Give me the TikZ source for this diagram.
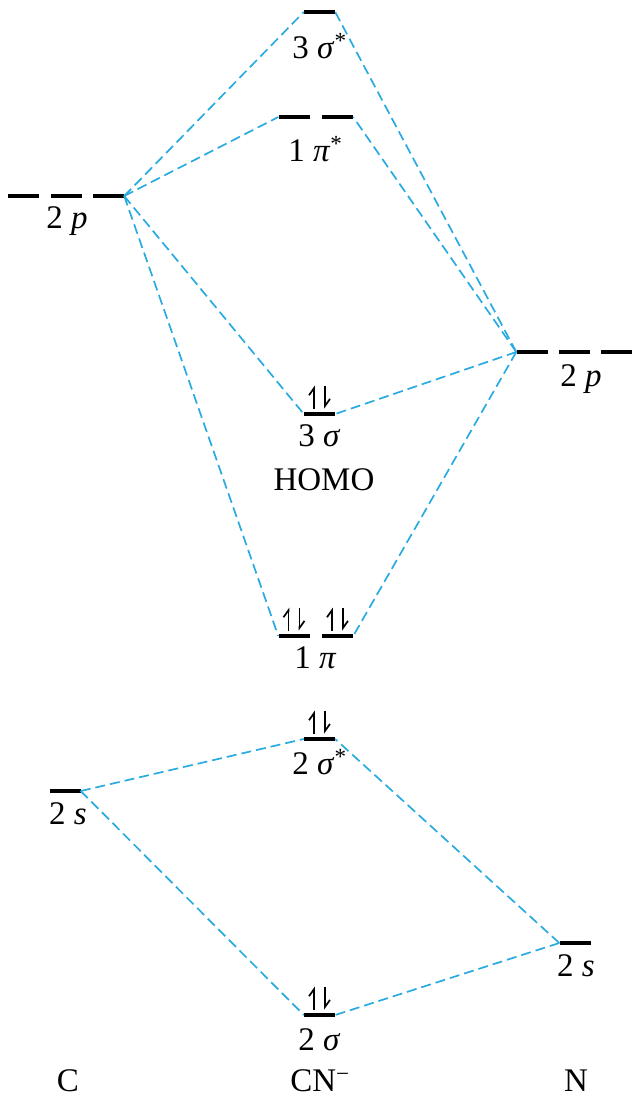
\documentclass[tikz,border=0pt]{standalone}
\usepackage{fontspec}
\setmainfont{Liberation Serif}
\usetikzlibrary{arrows.meta}
\definecolor{corrblue}{RGB}{41,171,226}
\begin{document}
\begin{tikzpicture}[x=1pt,y=-1pt,
  lvl/.style={fill=black,inner sep=0pt,minimum width=31pt,minimum height=4.5pt},
  corr/.style={draw=corrblue,dash pattern=on 10pt off 5pt,line width=1.7pt},
  lab/.style={font=\fontsize{33}{35}\selectfont,anchor=base,inner sep=0pt},
  spin/.style={line width=1.7pt,-{Straight Barb[harpoon,length=7pt,width=10pt,line width=1.7pt]}}]
\useasboundingbox (0,0) rectangle (633,1098);
% levels
\node[lvl] (s3) at (319.5,12) {};
\node[lvl] (pis1) at (294,117) {};
\node[lvl] (pis2) at (337.5,117) {};
\node[lvl] (Lp1) at (23.5,196) {};
\node[lvl] (Lp2) at (66,196) {};
\node[lvl] (Lp3) at (108.5,196) {};
\node[lvl] (Rp1) at (532,352) {};
\node[lvl] (Rp2) at (574.5,352) {};
\node[lvl] (Rp3) at (616.5,352) {};
\node[lvl] (sg3) at (319.5,414) {};
\node[lvl] (pi1) at (294,636) {};
\node[lvl] (pi2) at (337.5,636) {};
\node[lvl] (ss2) at (319.5,739) {};
\node[lvl] (Ls) at (65,791) {};
\node[lvl] (Rs) at (575,943) {};
\node[lvl] (sg2) at (319.5,1015) {};
% labels
\node[lab] (l1) at (319.5,58) {3 \textit{σ}\textsuperscript{*}};
\node[lab] (l2) at (315.5,161) {1 \textit{π}\textsuperscript{*}};
\node[lab] (l3) at (67,228) {2 \textit{p}};
\node[lab] (l4) at (581,386) {2 \textit{p}};
\node[lab] (l5) at (319.5,446) {3 \textit{σ}};
\node[lab] (l6) at (324,490) {HOMO};
\node[lab] (l7) at (315.5,668) {1 \textit{π}};
\node[lab] (l8) at (319.5,774) {2 \textit{σ}\textsuperscript{*}};
\node[lab] (l9) at (68,824) {2 \textit{s}};
\node[lab] (l10) at (576,976) {2 \textit{s}};
\node[lab] (l11) at (319.5,1050) {2 \textit{σ}};
\node[lab] (C) at (68,1091) {C};
\node[lab] (CN) at (320,1091) {CN\textsuperscript{−}};
\node[lab] (N) at (576,1091) {N};
% correlation lines
\draw[corr] (Lp3.east) -- (s3.west);
\draw[corr] (Lp3.east) -- (pis1.west);
\draw[corr] (Lp3.east) -- (sg3.west);
\draw[corr] (Lp3.east) -- (pi1.west);
\draw[corr] (Rp1.west) -- (s3.east);
\draw[corr] (Rp1.west) -- (pis2.east);
\draw[corr] (Rp1.west) -- (sg3.east);
\draw[corr] (Rp1.west) -- (pi2.east);
\draw[corr] (Ls.east) -- (ss2.west);
\draw[corr] (Ls.east) -- (sg2.west);
\draw[corr] (Rs.west) -- (ss2.east);
\draw[corr] (Rs.west) -- (sg2.east);
% electrons
\foreach \n in {sg3,pi1,pi2,ss2,sg2}{
  \draw[spin] ([xshift=-5.5pt,yshift=3pt]\n.north) -- ++(0,-23);
  \draw[spin] ([xshift=5.5pt,yshift=3pt]\n.north) ++(0,-23) -- ++(0,23);
}
\end{tikzpicture}
\end{document}
